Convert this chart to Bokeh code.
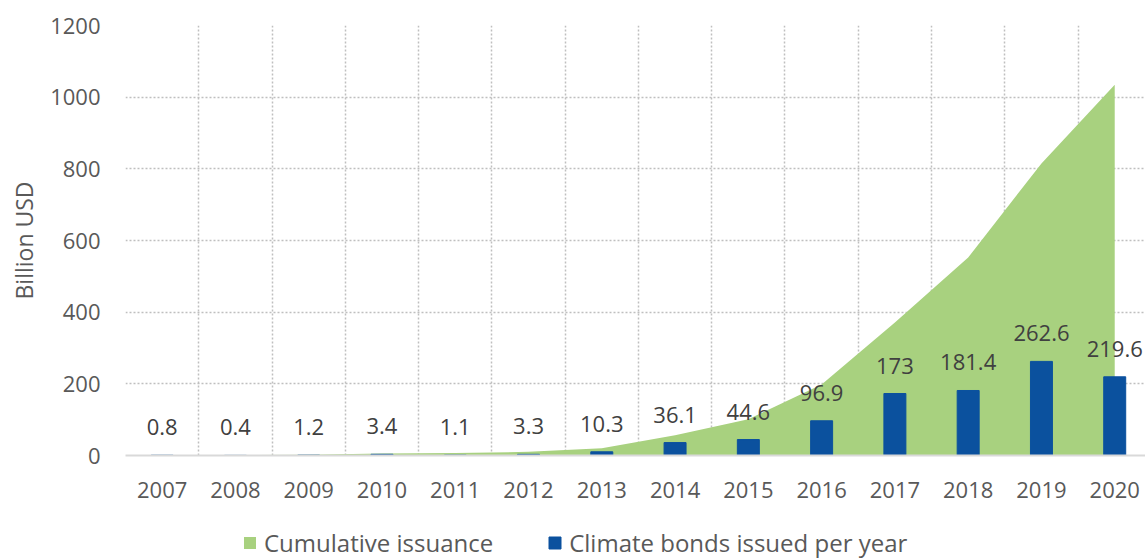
from bokeh.plotting import figure
from bokeh.layouts import column
from bokeh.models import (ColumnDataSource, Range1d, FixedTicker, LabelSet,
                          Legend, LegendItem)
from bokeh.core.properties import value
from bokeh.embed import file_html
from bokeh.resources import INLINE

years = ["2007", "2008", "2009", "2010", "2011", "2012", "2013",
         "2014", "2015", "2016", "2017", "2018", "2019", "2020"]
annual = [0.8, 0.4, 1.2, 3.4, 1.1, 3.3, 10.3, 36.1, 44.6, 96.9,
          173, 181.4, 262.6, 219.6]
annual_labels = ["0.8", "0.4", "1.2", "3.4", "1.1", "3.3", "10.3", "36.1",
                 "44.6", "96.9", "173", "181.4", "262.6", "219.6"]
cumulative = [0.8, 1.2, 2.4, 5.8, 6.9, 10.2, 20.5, 56.6, 101.2, 198.1,
              371.1, 552.5, 815.1, 1034.7]
y_ticks = [0, 200, 400, 600, 800, 1000, 1200]
series_names = ["Cumulative issuance", "Climate bonds issued per year"]

FONT = "Open Sans"
GREEN = "#A8D17F"
BLUE = "#0B519E"
W = 1145

xs = list(range(len(years)))
src = ColumnDataSource(dict(x=xs, annual=annual, cum=cumulative,
                            lab=annual_labels))

p = figure(width=W, height=513,
           x_range=Range1d(-0.5, 13.42), y_range=Range1d(0, 1200),
           output_backend="svg", toolbar_location=None,
           min_border_top=25, min_border_right=0, min_border_left=125,
           min_border_bottom=58)
p.outline_line_color = None

area = p.varea(x="x", y1=0, y2="cum", source=src, fill_color=GREEN)
bars = p.vbar(x="x", top="annual", width=0.3, source=src,
              fill_color=BLUE, line_color=BLUE)

labels = LabelSet(x="x", y="annual", text="lab", source=src,
                  y_offset=28, text_align="center", text_baseline="middle",
                  text_font=value(FONT), text_font_size="22px",
                  text_color="#404040")
p.add_layout(labels)

# grids
p.xgrid.ticker = FixedTicker(ticks=[i - 0.5 for i in range(len(years) + 1)])
p.ygrid.ticker = FixedTicker(ticks=y_ticks)
for g in (p.xgrid, p.ygrid):
    g.grid_line_color = "#BFBFBF"
    g.grid_line_dash = "2 2"
    g.grid_line_width = 1.5

# x axis
xa = p.xaxis[0]
xa.ticker = FixedTicker(ticks=xs)
xa.major_label_overrides = {i: y for i, y in enumerate(years)}
xa.axis_line_color = "#D9D9D9"
xa.axis_line_width = 2
xa.major_tick_line_color = None
xa.minor_tick_line_color = None
xa.major_tick_out = 0
xa.major_tick_in = 0
xa.major_label_standoff = 26
xa.major_label_text_font = FONT
xa.major_label_text_font_size = "22px"
xa.major_label_text_color = "#595959"

# y axis
ya = p.yaxis[0]
ya.ticker = FixedTicker(ticks=y_ticks)
ya.axis_line_color = None
ya.major_tick_line_color = None
ya.minor_tick_line_color = None
ya.major_tick_out = 0
ya.major_tick_in = 0
ya.major_label_standoff = 25
ya.major_label_text_font = FONT
ya.major_label_text_font_size = "22px"
ya.major_label_text_color = "#595959"
ya.axis_label = "Billion USD"
ya.axis_label_standoff = 7
ya.axis_label_text_font = FONT
ya.axis_label_text_font_size = "23px"
ya.axis_label_text_font_style = "normal"
ya.axis_label_text_color = "#595959"

# legend strip below the chart (its frame is aligned with the chart frame)
leg = figure(width=W, height=45, x_range=Range1d(0, 1), y_range=Range1d(0, 1),
             output_backend="svg", toolbar_location=None,
             x_axis_type=None, y_axis_type=None, min_border=0)
leg.outline_line_color = None
leg.xgrid.visible = False
leg.ygrid.visible = False
# swatch renderers kept outside the visible range
r1 = leg.varea(x=[5, 6], y1=[5, 5], y2=[6, 6], fill_color=GREEN)
r2 = leg.vbar(x=[5], bottom=[5], top=[6], width=0.3,
              fill_color=BLUE, line_color=BLUE)

legend = Legend(items=[LegendItem(label=series_names[0], renderers=[r1]),
                       LegendItem(label=series_names[1], renderers=[r2])],
                orientation="horizontal", location=(117, -1),
                border_line_color=None, background_fill_alpha=0,
                glyph_width=15, glyph_height=15, label_standoff=7,
                spacing=54, padding=0, margin=0,
                label_text_font=FONT, label_text_font_size="24px",
                label_text_color="#595959")
leg.add_layout(legend)

layout = column(p, leg, spacing=0)
open("out.html", "w").write(file_html(layout, INLINE))
